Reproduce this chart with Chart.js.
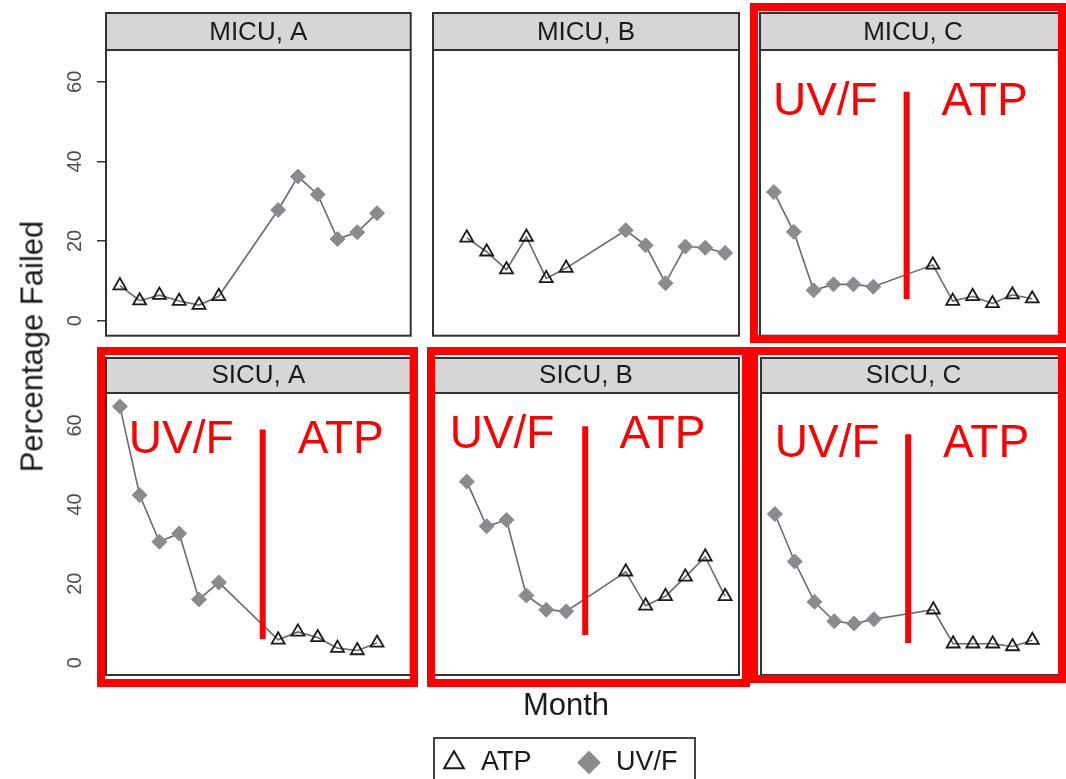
<!DOCTYPE html>
<html>
<head>
<meta charset="utf-8">
<script src="https://cdn.jsdelivr.net/npm/chart.js@4.4.0/dist/chart.umd.min.js"></script>
<style>
body { margin: 0; background: #fff; }
#wrap { position: relative; width: 1066px; height: 779px; overflow: hidden; font-family: "Liberation Sans", Arial, sans-serif; }
#wrap canvas { position: absolute; }
.redbox { position: absolute; border: 8px solid #ff0000; box-sizing: border-box; pointer-events: none; }
#ytitle { position: absolute; left: -118px; top: 331px; width: 300px; height: 31px; line-height: 31px; font-size: 31px; color: #1a1a1a; text-align: center; transform: rotate(-90deg); }
#xtitle { position: absolute; left: 466px; top: 689px; width: 200px; line-height: 31px; font-size: 31px; color: #1a1a1a; text-align: center; }
#legbox { position: absolute; left: 433px; top: 737px; width: 263px; height: 70px; border: 2px solid #444; box-sizing: border-box; }
</style>
</head>
<body>
<div id="wrap">
  <canvas id="c0"></canvas><canvas id="c1"></canvas><canvas id="c2"></canvas>
  <canvas id="c3"></canvas><canvas id="c4"></canvas><canvas id="c5"></canvas>
  <div id="ytitle">Percentage Failed</div>
  <div id="xtitle">Month</div>
  <div id="legbox"></div>
  <canvas id="leg"></canvas>
  <div class="redbox" style="left:750px;top:3px;width:316px;height:340px"></div>
  <div class="redbox" style="left:97px;top:347px;width:321px;height:340px"></div>
  <div class="redbox" style="left:427px;top:347px;width:323px;height:340px"></div>
  <div class="redbox" style="left:750px;top:347px;width:316px;height:336px"></div>
</div>
<script>
// panels, in reading order
const panelNames = ['MICU, A', 'MICU, B', 'MICU, C', 'SICU, A', 'SICU, B', 'SICU, C'];

// month index and percentage failed per method
const micuA_atpMonth = [1, 2, 3, 4, 5, 6];
const micuA_atp = [8.8, 5.0, 6.4, 4.9, 3.9, 6.1];
const micuA_uvfMonth = [9, 10, 11, 12, 13, 14];
const micuA_uvf = [27.8, 36.2, 31.7, 20.5, 22.2, 27.0];

const micuB_atpMonth = [2, 3, 4, 5, 6, 7];
const micuB_atp = [20.8, 17.3, 12.8, 21.0, 10.6, 13.2];
const micuB_uvfMonth = [10, 11, 12, 13, 14, 15];
const micuB_uvf = [22.7, 18.9, 9.4, 18.6, 18.3, 17.0];

const micuC_uvfMonth = [1, 2, 3, 4, 5, 6];
const micuC_uvf = [32.3, 22.3, 7.6, 9.1, 9.1, 8.5];
const micuC_atpMonth = [9, 10, 11, 12, 13, 14];
const micuC_atp = [14.0, 4.9, 6.1, 4.3, 6.5, 5.5];

const sicuA_uvfMonth = [1, 2, 3, 4, 5, 6];
const sicuA_uvf = [64.8, 42.4, 30.6, 32.7, 16.0, 20.3];
const sicuA_atpMonth = [9, 10, 11, 12, 13, 14];
const sicuA_atp = [5.8, 7.8, 6.4, 3.7, 3.1, 5.0];

const sicuB_uvfMonth = [2, 3, 4, 5, 6, 7];
const sicuB_uvf = [45.8, 34.5, 36.1, 17.0, 13.4, 13.0];
const sicuB_atpMonth = [10, 11, 12, 13, 14, 15];
const sicuB_atp = [23.0, 14.4, 16.8, 21.7, 26.8, 16.8];

const sicuC_uvfMonth = [1, 2, 3, 4, 5, 6];
const sicuC_uvf = [37.6, 25.6, 15.4, 10.5, 9.9, 11.0];
const sicuC_atpMonth = [9, 10, 11, 12, 13, 14];
const sicuC_atp = [13.4, 4.8, 4.8, 4.8, 4.1, 5.7];

const yTicks = [0, 20, 40, 60];

const panelData = [
  [micuA_atpMonth, micuA_atp, micuA_uvfMonth, micuA_uvf],
  [micuB_atpMonth, micuB_atp, micuB_uvfMonth, micuB_uvf],
  [micuC_atpMonth, micuC_atp, micuC_uvfMonth, micuC_uvf],
  [sicuA_atpMonth, sicuA_atp, sicuA_uvfMonth, sicuA_uvf],
  [sicuB_atpMonth, sicuB_atp, sicuB_uvfMonth, sicuB_uvf],
  [sicuC_atpMonth, sicuC_atp, sicuC_uvfMonth, sicuC_uvf]
];

// red hand-drawn notes (in data units of each panel)
const notes = {
  'MICU, C': { split: 7.68, from: 5.4, to: 57.5, uvfAt: 0.95, atpAt: 9.44, textAt: 51.7 },
  'SICU, A': { split: 8.22, from: 6.0, to: 59.0, uvfAt: 1.45, atpAt: 9.99, textAt: 53.0 },
  'SICU, B': { split: 7.96, from: 7.0, to: 59.8, uvfAt: 1.14, atpAt: 9.68, textAt: 54.2 },
  'SICU, C': { split: 7.73, from: 5.0, to: 57.8, uvfAt: 1.0, atpAt: 9.49, textAt: 51.9 }
};

// canvas placement (right column runs past the page edge, like the original)
const layout = [
  { left: 0,   top: 0,   w: 420, h: 345, pad: { left: 0,  right: 9,  top: 50, bottom: 8 },  yAxis: true, strip: 37, ymin: -3.8, ymax: 68.0 },
  { left: 420, top: 0,   w: 330, h: 345, pad: { left: 13, right: 11, top: 50, bottom: 8 },  strip: 37, ymin: -3.8, ymax: 68.0 },
  { left: 750, top: 0,   w: 330, h: 345, pad: { left: 10, right: 14, top: 50, bottom: 8 },  strip: 37, ymin: -3.8, ymax: 68.0 },
  { left: 0,   top: 345, w: 420, h: 345, pad: { left: 0,  right: 9,  top: 48, bottom: 15 }, yAxis: true, strip: 35, ymin: -3.1, ymax: 68.2 },
  { left: 420, top: 345, w: 330, h: 345, pad: { left: 13, right: 11, top: 48, bottom: 15 }, strip: 35, ymin: -3.1, ymax: 68.2 },
  { left: 750, top: 345, w: 330, h: 345, pad: { left: 11, right: 14, top: 48, bottom: 15 }, strip: 35, ymin: -3.1, ymax: 68.2 }
];

const FONT = '"Liberation Sans", Arial, sans-serif';

// grey strip on top of each panel + dark panel border
const stripPlugin = {
  id: 'strip',
  afterDraw(chart, args, o) {
    const { ctx, chartArea: a } = chart;
    ctx.save();
    ctx.fillStyle = '#d6d6d8';
    ctx.fillRect(a.left, a.top - o.h, a.right - a.left, o.h);
    ctx.strokeStyle = '#333';
    ctx.lineWidth = 2;
    ctx.strokeRect(a.left, a.top - o.h, a.right - a.left, o.h);
    ctx.strokeRect(a.left, a.top, a.right - a.left, a.bottom - a.top);
    ctx.fillStyle = '#1a1a1a';
    ctx.font = '26px ' + FONT;
    ctx.textAlign = 'center';
    ctx.textBaseline = 'alphabetic';
    ctx.fillText(o.text, (a.left + a.right) / 2, a.top - 10.3);
    ctx.restore();
  }
};

// red divider line and labels
const notePlugin = {
  id: 'note',
  afterDraw(chart, args, o) {
    if (!o || o.split === undefined) return;
    const { ctx } = chart;
    const x = chart.scales.x, y = chart.scales.y;
    ctx.save();
    ctx.strokeStyle = '#ff0000';
    ctx.lineWidth = 6;
    ctx.beginPath();
    ctx.moveTo(x.getPixelForValue(o.split), y.getPixelForValue(o.to));
    ctx.lineTo(x.getPixelForValue(o.split), y.getPixelForValue(o.from));
    ctx.stroke();
    ctx.fillStyle = '#ff0000';
    ctx.font = '46px ' + FONT;
    ctx.textAlign = 'left';
    ctx.textBaseline = 'alphabetic';
    ctx.fillText('UV/F', x.getPixelForValue(o.uvfAt), y.getPixelForValue(o.textAt));
    ctx.fillText('ATP', x.getPixelForValue(o.atpAt), y.getPixelForValue(o.textAt));
    ctx.restore();
  }
};

panelNames.forEach((name, i) => {
  const [atpM, atpV, uvfM, uvfV] = panelData[i];
  const L = layout[i];
  const atpPts = atpM.map((m, k) => ({ x: m, y: atpV[k] }));
  const uvfPts = uvfM.map((m, k) => ({ x: m, y: uvfV[k] }));
  const linePts = atpPts.concat(uvfPts).sort((a, b) => a.x - b.x);

  const cv = document.getElementById('c' + i);
  cv.width = L.w; cv.height = L.h;
  cv.style.left = L.left + 'px'; cv.style.top = L.top + 'px';
  cv.style.width = L.w + 'px'; cv.style.height = L.h + 'px';

  new Chart(cv, {
    type: 'scatter',
    data: {
      datasets: [
        { label: 'line', data: linePts, showLine: true, pointRadius: 0, borderColor: '#6a6a6a', borderWidth: 1.6, order: 3 },
        { label: 'ATP', data: atpPts, pointStyle: 'triangle', pointRadius: 7.5, borderColor: '#1a1a1a', backgroundColor: 'rgba(0,0,0,0)', pointBorderWidth: 1.8, order: 1 },
        { label: 'UV/F', data: uvfPts, pointStyle: 'rectRot', pointRadius: 7.5, borderColor: '#8b8b8f', backgroundColor: '#8b8b8f', pointBorderWidth: 1, order: 2 }
      ]
    },
    options: {
      responsive: false,
      devicePixelRatio: 1,
      animation: false,
      layout: { padding: L.pad },
      scales: {
        x: {
          type: 'linear', min: 0.3, max: 15.7, display: false,
          afterFit: s => { s.height = 0; s.paddingLeft = 0; s.paddingRight = 0; }
        },
        y: {
          type: 'linear', min: L.ymin, max: L.ymax,
          display: !!L.yAxis,
          afterFit: s => { s.width = L.yAxis ? 106 : 0; s.paddingTop = 0; s.paddingBottom = 0; },
          afterBuildTicks: s => { s.ticks = yTicks.map(v => ({ value: v })); },
          border: { display: false },
          grid: { drawOnChartArea: false, drawTicks: true, tickLength: 9, color: '#333', lineWidth: 1.5 },
          ticks: { minRotation: 90, maxRotation: 90, crossAlign: 'center', padding: 10, color: '#4d4d4d', font: { size: 20, family: FONT } }
        }
      },
      plugins: {
        legend: { display: false },
        tooltip: { enabled: false },
        strip: { text: name, h: L.strip },
        note: notes[name] || {}
      }
    },
    plugins: [stripPlugin, notePlugin]
  });
});

// shared legend
const leg = document.getElementById('leg');
leg.width = 400; leg.height = 200;
leg.style.left = '359px'; leg.style.top = '705px';
leg.style.width = '400px'; leg.style.height = '200px';
new Chart(leg, {
  type: 'scatter',
  data: {
    datasets: [
      { label: 'ATP', data: [], pointStyle: 'triangle', borderColor: '#1a1a1a', backgroundColor: 'rgba(0,0,0,0)', borderWidth: 2 },
      { label: 'UV/F', data: [], pointStyle: 'rectRot', borderColor: '#8b8b8f', backgroundColor: '#8b8b8f', borderWidth: 1 }
    ]
  },
  options: {
    responsive: false,
    devicePixelRatio: 1,
    animation: false,
    scales: { x: { display: false }, y: { display: false } },
    plugins: {
      tooltip: { enabled: false },
      legend: {
        display: true,
        position: 'top',
        labels: { usePointStyle: true, boxWidth: 27, boxHeight: 16, padding: 44, color: '#1a1a1a', font: { size: 27, family: FONT } }
      }
    }
  }
});
</script>
</body>
</html>
